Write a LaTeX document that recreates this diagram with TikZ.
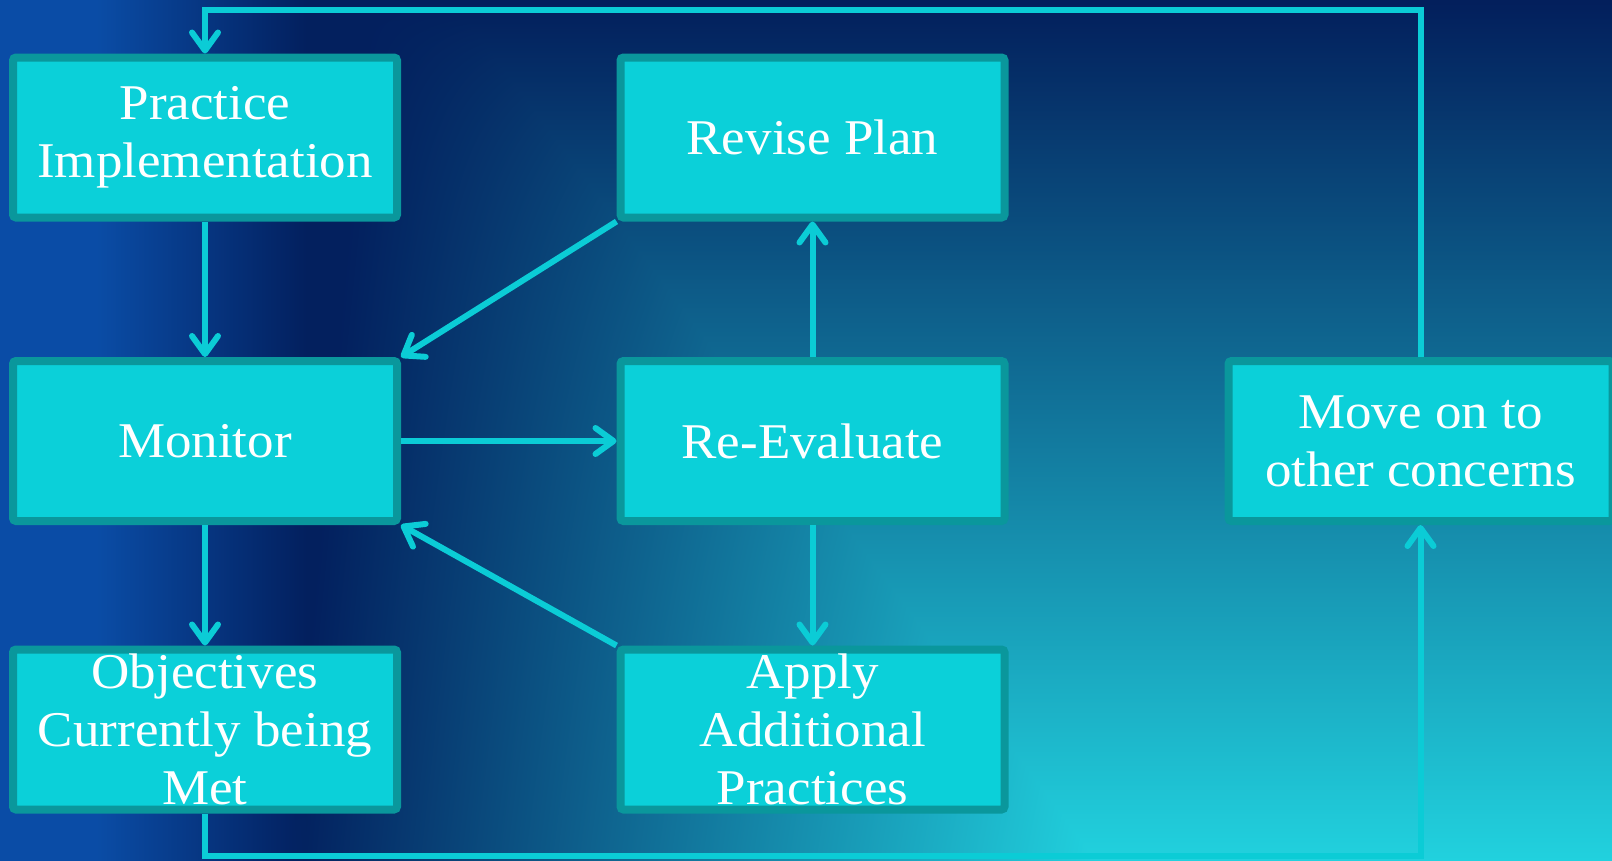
\documentclass[tikz,border=0pt]{standalone}
\usepackage{fontspec}
\setmainfont{Liberation Serif}[FakeStretch=1.06]
\usetikzlibrary{arrows.meta}
\definecolor{boxfill}{HTML}{0BD0D9}
\definecolor{boxline}{HTML}{0A979C}
\definecolor{arrowc}{HTML}{0BCCD6}
% background: vertical navy->cyan blend, with a blue/navy band on the left
\pgfdeclarefunctionalshading{bgshade}{\pgfpoint{0bp}{0bp}}{\pgfpoint{100bp}{100bp}}{}{
  75 exch sub 50 div exch 25 sub 50 div
  dup 2 index 0.4 mul 0.28 add exch sub 2 index 0.45 mul 0.05 add div
  dup 1 gt {pop 1} if dup 0 lt {pop 0} if
  exch 0.06 sub 0.13 div dup 1 gt {pop 1} if dup 0 lt {pop 0} if
  dup -0.03 mul 0.04 add 2 index mul 3 index 0.12 mul 0.01 add 1 4 index sub mul add
  1 index -0.175 mul 0.30 add 3 index mul 4 index 0.70 mul 0.12 add 1 5 index sub mul add
  2 index -0.28 mul 0.65 add 4 index mul 5 index 0.51 mul 0.36 add 1 6 index sub mul add
  6 3 roll pop pop pop
}
\begin{document}
\begin{tikzpicture}[x=1pt,y=-1pt,
  flowbox/.style={draw=boxline, fill=boxfill, line width=8pt, minimum width=384pt,
    minimum height=160pt, rounded corners=3pt, text=white, align=center,
    font=\fontsize{50}{58}\selectfont, inner sep=0pt},
  conn/.style={draw=arrowc, line width=6pt, -{Straight Barb[length=18pt,width=26pt,round]}}]
\useasboundingbox (0,0) rectangle (1612,860);
% background
\fill[shading=bgshade] (0,0) rectangle (1612,860);
% nodes
\node[flowbox] (pract) at (205,137.5) {Practice\\Implementation};
\node[flowbox] (mon) at (205,441) {Monitor};
\node[flowbox] (obj) at (205,729.5) {Objectives\\Currently being\\Met};
\node[flowbox] (rev) at (812.5,137.5) {Revise Plan};
\node[flowbox] (reev) at (812.5,441) {Re-Evaluate};
\node[flowbox] (apply) at (812.5,729.5) {Apply\\Additional\\Practices};
\node[flowbox] (move) at (1420.5,441) {Move on to\\other concerns};
% loop coordinates
\coordinate (tr) at (1420.5,10);
\coordinate (tl) at (205,10);
\coordinate (bl) at (205,856);
\coordinate (br) at (1420.5,856);
% connectors
\draw[conn] (move.north) -- (tr) -- (tl) -- (pract.north);
\draw[conn] (pract.south) -- (mon.north);
\draw[conn] (mon.south) -- (obj.north);
\draw[conn] (rev.south west) -- (mon.north east);
\draw[conn] (mon.east) -- (reev.west);
\draw[conn] (reev.north) -- (rev.south);
\draw[conn] (reev.south) -- (apply.north);
\draw[conn] (apply.north west) -- (mon.south east);
\draw[conn] (obj.south) -- (bl) -- (br) -- (move.south);
\end{tikzpicture}
\end{document}
